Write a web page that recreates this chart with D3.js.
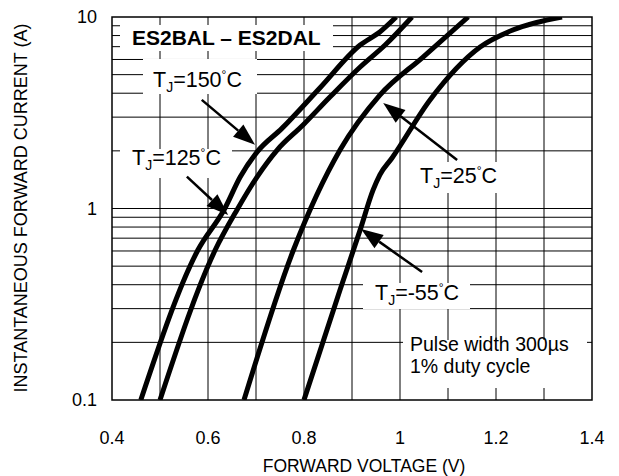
<!DOCTYPE html>
<html><head><meta charset="utf-8">
<script src="https://cdn.jsdelivr.net/npm/d3@7"></script>
<style>body{margin:0;background:#fff;} text{font-family:"Liberation Sans",Arial,Helvetica,sans-serif;fill:#000;}</style>
</head><body><svg id="c" width="619" height="476"></svg>
<script>
// ---- data ----
const xTickValues = [0.4, 0.6, 0.8, 1, 1.2, 1.4];
const xTickLabels = ["0.4", "0.6", "0.8", "1", "1.2", "1.4"];
const yTickValues = [0.1, 1, 10];
const yTickLabels = ["0.1", "1", "10"];

const v150 = [0.460, 0.579, 0.635, 0.667, 0.702, 0.754, 0.833, 0.917, 0.958, 0.992];
const i150 = [0.10, 0.607, 1.00, 1.46, 1.97, 2.62, 4.26, 7.14, 8.35, 10];
const v125 = [0.500, 0.615, 0.660, 0.702, 0.744, 0.798, 0.854, 0.917, 0.969, 1.025];
const i125 = [0.10, 0.607, 0.98, 1.46, 2.02, 2.73, 3.82, 5.48, 7.14, 10];
const v25  = [0.675, 0.778, 0.875, 0.958, 1.048, 1.142];
const i25  = [0.10, 0.607, 2.02, 3.91, 6.18, 10];
const vM55 = [0.800, 0.875, 0.917, 0.944, 0.958, 0.983, 1.0625, 1.167, 1.235, 1.3375];
const iM55 = [0.10, 0.375, 0.773, 1.25, 1.50, 1.83, 3.69, 6.97, 8.55, 10];

const seriesNames = ["150", "125", "25", "-55"];

// ---- layout ----
const svg = d3.select("#c");
const x = d3.scaleLinear().domain([0.4, 1.4]).range([112, 592]);
const y = d3.scaleLog().domain([0.1, 10]).range([400, 17]);

// grid
const vGrid = d3.range(5, 14).map(d => d / 10);
const hGrid = [0.2,0.3,0.4,0.5,0.6,0.7,0.8,0.9,1,2,3,4,5,6,7,8,9];
const g = svg.append("g");
g.selectAll("line.v").data(vGrid).join("line")
  .attr("x1", d => x(d)).attr("x2", d => x(d)).attr("y1", y(10)).attr("y2", y(0.1))
  .attr("stroke", "#000").attr("stroke-width", 1);
g.selectAll("line.h").data(hGrid).join("line")
  .attr("x1", x(0.4)).attr("x2", x(1.4)).attr("y1", d => y(d)).attr("y2", d => y(d))
  .attr("stroke", "#000").attr("stroke-width", 1);

// white label boxes (cover grid)
const boxes = [
  [120, 25, 213, 26],
  [143, 59, 114, 35],
  [120, 149, 112, 29],
  [412, 162, 91, 31],
  [363, 283, 107, 26],
  [403, 340, 184, 48]
];
svg.selectAll("rect.box").data(boxes).join("rect")
  .attr("x", d => d[0]).attr("y", d => d[1]).attr("width", d => d[2]).attr("height", d => d[3])
  .attr("fill", "#fff");

// curves
const line = d3.line().x(d => x(d[0])).y(d => y(d[1])).curve(d3.curveMonotoneX);
const series = [[v150, i150], [v125, i125], [v25, i25], [vM55, iM55]];
svg.append("clipPath").attr("id", "clip").append("rect")
  .attr("x", 112).attr("y", 17).attr("width", 480).attr("height", 383);
svg.append("g").attr("clip-path", "url(#clip)")
  .selectAll("path").data(series).join("path")
  .attr("d", s => line(s[0].map((v, k) => [v, s[1][k]])))
  .attr("fill", "none").attr("stroke", "#000").attr("stroke-width", 5)
  .attr("stroke-linejoin", "round");

// frame
svg.append("rect").attr("x", 112).attr("y", 17).attr("width", 480).attr("height", 383)
  .attr("fill", "none").attr("stroke", "#000").attr("stroke-width", 1.5);

// arrows (tail V,I -> tip V,I)
const arrowTails = [[0.587, 3.69], [0.556, 1.466], [1.119, 1.79], [1.046, 0.466]];
const arrowTips  = [[0.698, 2.15], [0.642, 0.925], [0.965, 3.56], [0.919, 0.782]];
const aG = svg.append("g");
arrowTails.forEach((t, k) => {
  const p = arrowTips[k];
  const x1 = x(t[0]), y1 = y(t[1]), x2 = x(p[0]), y2 = y(p[1]);
  const ang = Math.atan2(y2 - y1, x2 - x1);
  const L = 22, Wd = 8;
  const bx = x2 - L * Math.cos(ang), by = y2 - L * Math.sin(ang);
  aG.append("line").attr("x1", x1).attr("y1", y1).attr("x2", bx).attr("y2", by)
    .attr("stroke", "#000").attr("stroke-width", 2.5);
  const px = -Math.sin(ang), py = Math.cos(ang);
  aG.append("path").attr("d", `M${x2},${y2}L${bx + px * Wd},${by + py * Wd}L${bx - px * Wd},${by - py * Wd}Z`)
    .attr("fill", "#000");
});

// labels
svg.append("text").attr("x", 132).attr("y", 45).attr("font-size", 21).attr("font-weight", "bold")
  .text("ES2BAL – ES2DAL");
function tj(xp, yp, temp) {
  const t = svg.append("text").attr("x", xp).attr("y", yp).attr("font-size", 21.5);
  t.append("tspan").text("T");
  t.append("tspan").attr("font-size", 14).attr("dy", 5).text("J");
  t.append("tspan").attr("dy", -5).text("=" + temp);
  t.append("tspan").attr("font-size", 12).attr("dy", -8).text("°");
  t.append("tspan").attr("dy", 8).text("C");
}
tj(153, 87, seriesNames[0]);
tj(132, 165, seriesNames[1]);
tj(420, 183, seriesNames[2]);
tj(375, 300, seriesNames[3]);
svg.append("text").attr("x", 410).attr("y", 351).attr("font-size", 19.5).text("Pulse width 300µs");
svg.append("text").attr("x", 410).attr("y", 373).attr("font-size", 19.5).text("1% duty cycle");

// tick labels
svg.selectAll("text.xt").data(xTickValues).join("text")
  .attr("x", d => x(d)).attr("y", 444).attr("text-anchor", "middle").attr("font-size", 18)
  .text((d, k) => xTickLabels[k]);
svg.selectAll("text.yt").data(yTickValues).join("text")
  .attr("x", 97).attr("y", d => y(d)).attr("dy", "0.35em").attr("text-anchor", "end").attr("font-size", 18)
  .text((d, k) => yTickLabels[k]);

// axis titles
svg.append("text").attr("x", 364).attr("y", 472).attr("text-anchor", "middle").attr("font-size", 17.5)
  .text("FORWARD VOLTAGE (V)");
svg.append("text").attr("transform", "translate(27,208) rotate(-90)").attr("text-anchor", "middle")
  .attr("font-size", 18).text("INSTANTANEOUS FORWARD CURRENT (A)");
</script></body></html>
